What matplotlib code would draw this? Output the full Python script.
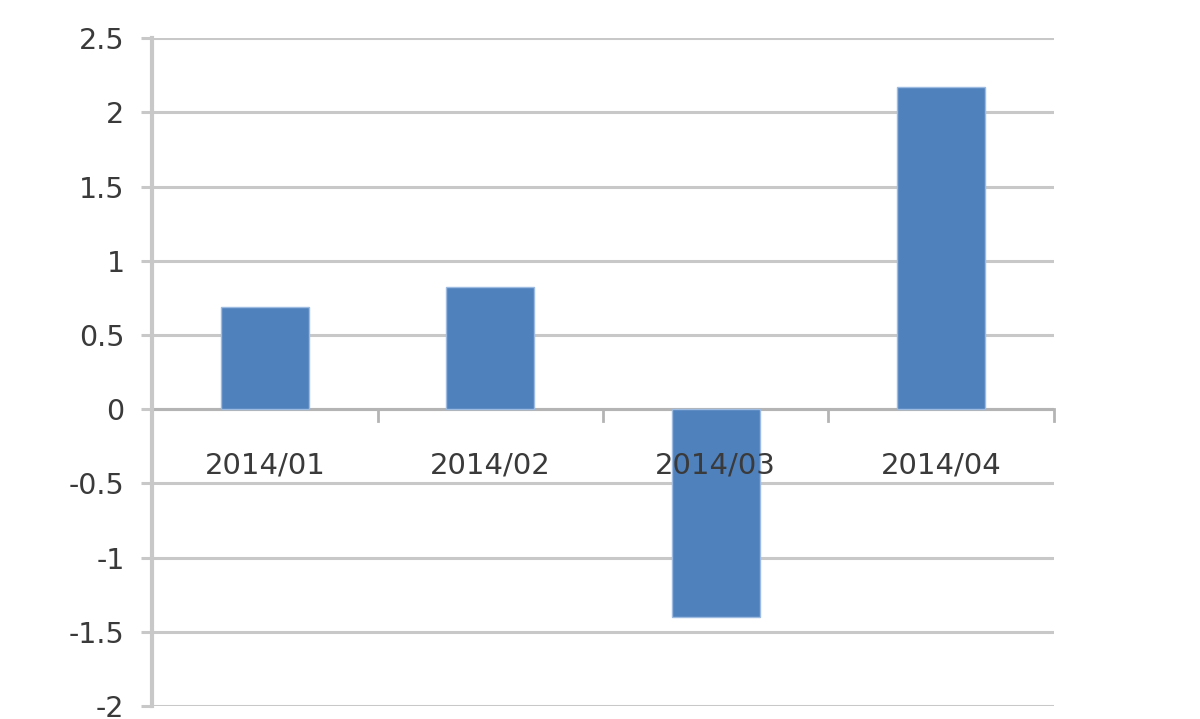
import matplotlib.pyplot as plt
import numpy as np

# Data
categories = ['2014/01', '2014/02', '2014/03', '2014/04']
values = [0.69, 0.82, -1.40, 2.17]
y_ticks = [-2, -1.5, -1, -0.5, 0, 0.5, 1, 1.5, 2, 2.5]
y_tick_labels = ['-2', '-1.5', '-1', '-0.5', '0', '0.5', '1', '1.5', '2', '2.5']

grid_color = '#c8c8c8'
bar_color = '#4f81bd'
text_color = '#3a3a3a'

fig = plt.figure(figsize=(12, 7.19), dpi=100)
ax = fig.add_axes([0.127, 0.018, 0.751, 0.929])

x = np.arange(len(categories)) + 0.5
ax.bar(x, values, width=0.39, color=bar_color, edgecolor='#9dbbe0', linewidth=1, zorder=3)

ax.set_xlim(0, len(categories))
ax.set_ylim(-2, 2.5)

# horizontal gridlines
ax.set_yticks(y_ticks)
ax.set_yticklabels(y_tick_labels)
ax.yaxis.grid(True, color=grid_color, linewidth=2.2, zorder=0)
ax.tick_params(axis='y', length=8, width=2.2, color=grid_color, labelsize=20.5,
               labelcolor=text_color, pad=12)

# x axis drawn at zero
ax.axhline(0, color='#b4b4b4', linewidth=2.2, zorder=2)
ax.set_xticks([])
for b in range(1, len(categories) + 1):
    ax.plot([b, b], [0, -0.08], color='#b4b4b4', linewidth=2, zorder=2, clip_on=False)
# category labels sit on top of the bars
for xi, lab in zip(x, categories):
    ax.text(xi, -0.38, lab, ha='center', va='center', fontsize=21, color=text_color, zorder=4)

for side in ['top', 'right', 'bottom']:
    ax.spines[side].set_visible(False)
ax.spines['left'].set_color('#c8c8c8')
ax.spines['left'].set_linewidth(3)

fig.savefig('out.png', dpi=100)
